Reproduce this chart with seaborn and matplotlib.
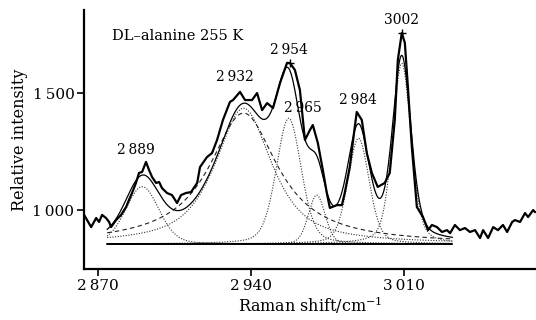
import numpy as np
import pandas as pd
import seaborn as sns
import matplotlib
matplotlib.use("Agg")
import matplotlib.pyplot as plt
from matplotlib.ticker import FixedLocator, FuncFormatter

## datos

# espectro medido (cm-1, intensidad)
raman_x = [2863.5, 2866.7, 2869.0, 2870.3, 2871.7, 2873.5, 2874.9, 2875.8, 2878.1, 2880.4,
           2882.7, 2884.0, 2885.4, 2887.2, 2888.6, 2890.0, 2891.8, 2893.2, 2894.6, 2896.4,
           2897.8, 2899.1, 2901.4, 2903.7, 2906.0, 2907.8, 2910.1, 2912.4, 2915.2, 2916.5,
           2919.7, 2922.0, 2924.3, 2927.0, 2930.2, 2931.6, 2934.8, 2937.1, 2940.3, 2942.6,
           2944.9, 2947.2, 2949.9, 2953.1, 2956.3, 2957.6, 2959.9, 2962.2, 2964.5, 2966.8,
           2968.1, 2970.4, 2972.7, 2974.5, 2975.9, 2979.1, 2981.4, 2982.7, 2985.0, 2987.3,
           2988.2, 2990.5, 2992.8, 2995.1, 2997.8, 3001.0, 3003.3, 3005.6, 3007.0, 3008.8,
           3010.2, 3011.6, 3013.4, 3015.7, 3018.5, 3020.8, 3022.6, 3024.9, 3027.2, 3029.5,
           3030.9, 3033.1, 3035.4, 3037.7, 3040.0, 3042.3, 3044.6, 3046.0, 3048.3, 3050.6,
           3052.8, 3055.1, 3057.0, 3059.3, 3060.6, 3062.9, 3065.2, 3066.6, 3068.9, 3069.8]
raman_y = [979, 927, 966, 949, 979, 966, 949, 927, 957, 979,
           1013, 1043, 1073, 1116, 1159, 1163, 1206, 1171, 1141, 1116,
           1120, 1094, 1073, 1064, 1030, 1064, 1073, 1077, 1116, 1184,
           1227, 1244, 1300, 1386, 1463, 1471, 1506, 1471, 1471, 1501,
           1428, 1458, 1437, 1544, 1630, 1630, 1600, 1514, 1300, 1343,
           1364, 1287, 1171, 1073, 1009, 1021, 1021, 1073, 1184, 1356,
           1420, 1386, 1244, 1159, 1099, 1116, 1159, 1386, 1643, 1758,
           1716, 1527, 1270, 1013, 970, 914, 936, 927, 906, 914,
           901, 936, 914, 923, 906, 914, 880, 914, 880, 927,
           914, 936, 906, 949, 957, 949, 987, 970, 1000, 991]

# componentes del ajuste: centro, altura, fwhm, fraccion lorentziana
comp_centro = [2890.1, 2936.4, 2957.1, 2969.9, 2989.0, 3008.8]
comp_altura = [245, 581, 538, 209, 452, 773]
comp_fwhm = [18, 31, 13.5, 9, 11.5, 10]
comp_eta = [0.2, 0.8, 0.3, 0.2, 0.3, 0.35]
linea_base = 855
rango_ajuste = (2874, 3032)

# banda ancha (trazo discontinuo)
ancha_centro, ancha_altura, ancha_fwhm = 2936.4, 560, 38

# etiquetas de picos
pico_txt = ['2\u2009889', '2\u2009932', '2\u2009954', '2\u2009965', '2\u2009984', '3002']
pico_x = [2887.3, 2932.5, 2957.3, 2963.6, 2988.8, 3008.9]
pico_y = [1257, 1571, 1685, 1437, 1471, 1814]
marca_x = [2957.6, 3008.8]
marca_y = [1630, 1758]


def pvoigt(x, c, h, w, eta):
    g = np.exp(-4 * np.log(2) * ((x - c) / w) ** 2)
    l = 1 / (1 + 4 * ((x - c) / w) ** 2)
    return h * (eta * l + (1 - eta) * g)


## setting
sns.set_style("ticks")
plt.rcParams['font.family'] = ['DejaVu Serif']
plt.rcParams['mathtext.fontset'] = 'dejavuserif'
plt.rcParams['text.color'] = 'black'
plt.rcParams['axes.labelcolor'] = 'black'

fig = plt.figure(figsize=(5.36, 3.2), dpi=100)
ax = fig.add_axes([0.157, 0.159, 0.843, 0.81])

xx = np.linspace(rango_ajuste[0], rango_ajuste[1], 600)
total = np.full_like(xx, linea_base, dtype=float)
for c, h, w, e in zip(comp_centro, comp_altura, comp_fwhm, comp_eta):
    yy = pvoigt(xx, c, h, w, e)
    total += yy
    ax.plot(xx, linea_base + yy, color='#333333', lw=0.8, ls=(0, (1, 1.4)))

ancha = ancha_altura / (1 + 4 * ((xx - ancha_centro) / ancha_fwhm) ** 2)
ax.plot(xx, linea_base + ancha, color='#222222', lw=0.8, ls=(0, (4, 3)))
ax.plot(list(rango_ajuste), [linea_base, linea_base], color='black', lw=1.4)

df_med = pd.DataFrame({'x': raman_x, 'y': raman_y})
df_fit = pd.DataFrame({'x': xx, 'y': total})
sns.lineplot(data=df_fit, x='x', y='y', ax=ax, color='black', lw=0.9, sort=False)
sns.lineplot(data=df_med, x='x', y='y', ax=ax, color='black', lw=1.6, sort=False)
ax.plot(marca_x, marca_y, ls='none', marker='+', color='black', ms=6, mew=1)

for t, px, py in zip(pico_txt, pico_x, pico_y):
    ax.text(px, py, t, ha='center', va='center', fontsize=10)
ax.text(0.062, 0.90, 'DL\u2013alanine 255 K', transform=ax.transAxes,
        ha='left', va='center', fontsize=10.5)

ax.set_xlim(2863.5, 3070.2)
ax.set_ylim(747, 1857)
ax.xaxis.set_major_locator(FixedLocator([2870, 2940, 3010]))
ax.yaxis.set_major_locator(FixedLocator([1000, 1500]))
fmt = FuncFormatter(lambda v, p: '{:,}'.format(int(v)).replace(',', '\u2009'))
ax.xaxis.set_major_formatter(fmt)
ax.yaxis.set_major_formatter(fmt)
ax.tick_params(direction='out', length=5, width=1.2, labelsize=11, colors='black', pad=2)
ax.set_xlabel('Raman shift/cm$^{-1}$', fontsize=11.5, labelpad=1)
ax.set_ylabel('Relative intensity', fontsize=11.5, labelpad=3)
for s in ['top', 'right']:
    ax.spines[s].set_visible(False)
for s in ['left', 'bottom']:
    ax.spines[s].set_linewidth(1.6)
    ax.spines[s].set_color('black')

fig.savefig('out.png', dpi=100)
